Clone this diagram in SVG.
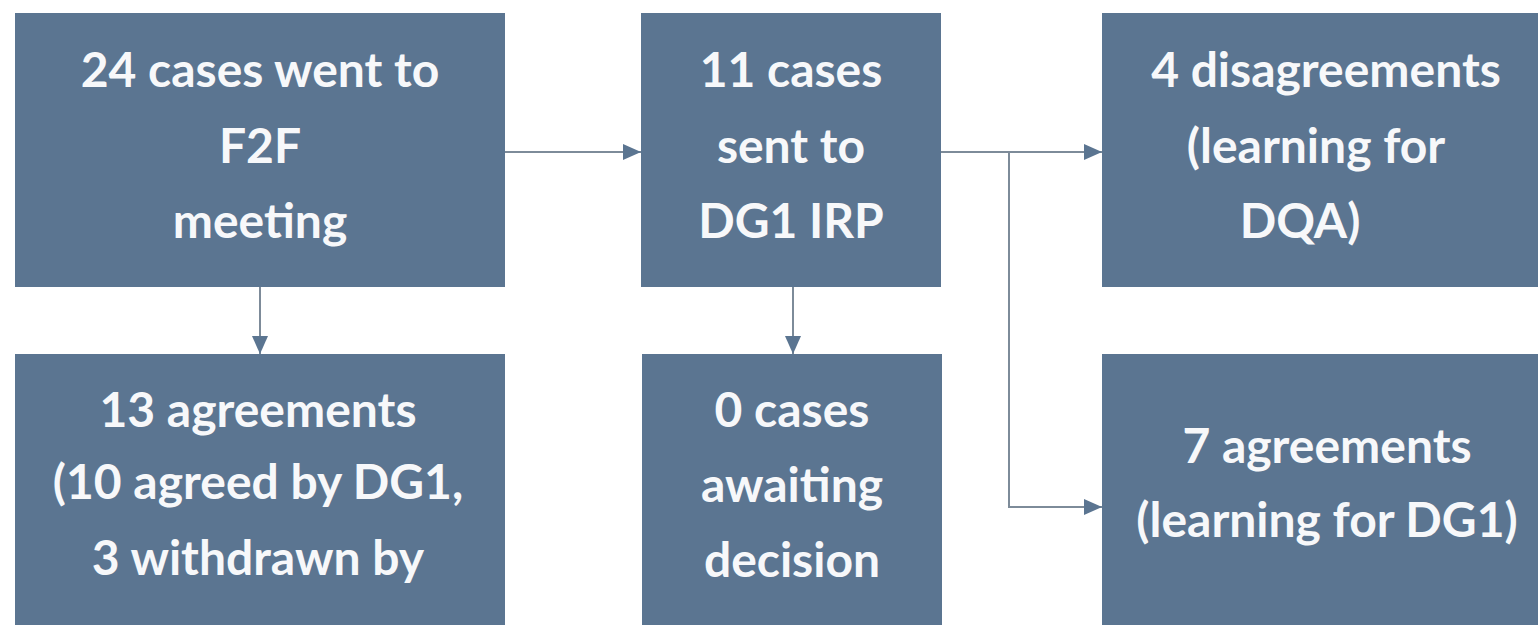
<svg xmlns="http://www.w3.org/2000/svg" width="1538" height="625" viewBox="0 0 1538 625">
<style>
.box{fill:#5b7591}
.t{font-family:Lato,"Open Sans","Liberation Sans",sans-serif;font-weight:bold;font-size:48px;fill:#f7f8fa;text-anchor:middle}
.c{stroke:#7d8b99;stroke-width:2;fill:none}
</style>
<defs>
<marker id="ah" markerWidth="18" markerHeight="16" refX="18" refY="8" orient="auto" markerUnits="userSpaceOnUse">
<path d="M0,0 L18,8 L0,16 Z" fill="#5b7591"/>
</marker>
</defs>
<rect width="1538" height="625" fill="#ffffff"/>
<g id="connectors">
<path class="c" d="M505,152 H641" marker-end="url(#ah)"/>
<path class="c" d="M260,287 V354" marker-end="url(#ah)"/>
<path class="c" d="M793,287 V354" marker-end="url(#ah)"/>
<path class="c" d="M941,152 H1102" marker-end="url(#ah)"/>
<path class="c" d="M1009,152 V507 H1102" marker-end="url(#ah)"/>
</g>
<g id="n1"><rect class="box" x="15" y="13" width="490" height="274"/>
<text class="t" x="260" y="87">24 cases went to</text><text class="t" x="260" y="163">F2F</text><text class="t" x="260" y="238">meeting</text></g>
<g id="n2"><rect class="box" x="641" y="13" width="300" height="274"/>
<text class="t" x="791" y="87">11 cases</text><text class="t" x="791" y="163">sent to</text><text class="t" x="791" y="238">DG1 IRP</text></g>
<g id="n3"><rect class="box" x="1102" y="13" width="450" height="274"/>
<text class="t" x="1326" y="87">4 disagreements</text><text class="t" x="1316" y="163">(learning for</text><text class="t" x="1300" y="238">DQA)</text></g>
<g id="n4"><rect class="box" x="15" y="354" width="490" height="280"/>
<text class="t" x="258" y="427">13 agreements</text><text class="t" x="258" y="499">(10 agreed by DG1,</text><text class="t" x="258" y="575">3 withdrawn by</text></g>
<g id="n5"><rect class="box" x="642" y="354" width="300" height="280"/>
<text class="t" x="792" y="427">0 cases</text><text class="t" x="792" y="502">awaiting</text><text class="t" x="792" y="577">decision</text></g>
<g id="n6"><rect class="box" x="1102" y="354" width="450" height="280"/>
<text class="t" x="1327" y="463">7 agreements</text><text class="t" x="1327" y="537">(learning for DG1)</text></g>
</svg>
